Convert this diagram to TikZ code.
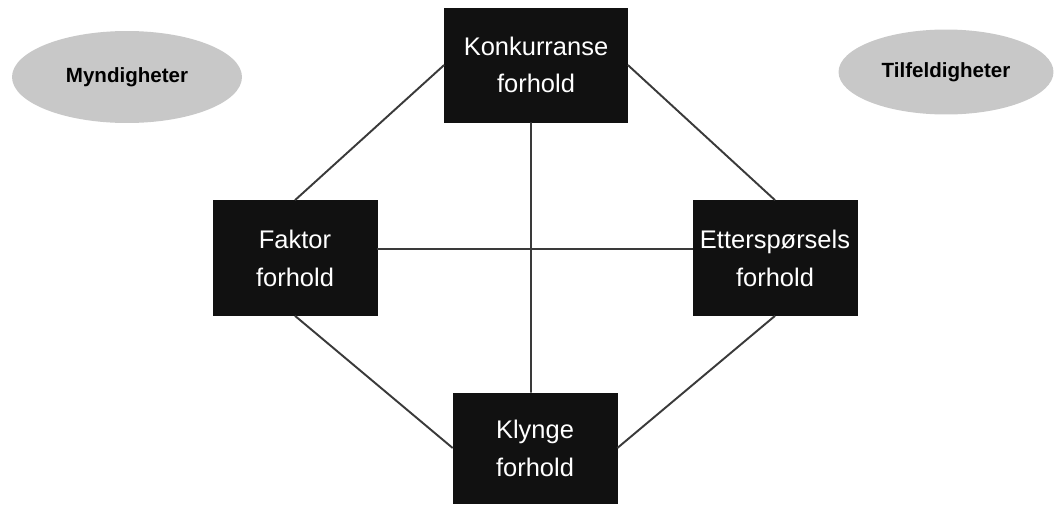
\documentclass[tikz,border=0pt]{standalone}
\usepackage{fontspec}
\setmainfont{Liberation Sans}
\usepackage{xcolor}
\usepackage{tikz}
\usetikzlibrary{shapes.geometric}

\definecolor{boxfill}{HTML}{111111}
\definecolor{ovalfill}{HTML}{C8C8C8}
\definecolor{linecol}{HTML}{3A3A3A}

\begin{document}
\begin{tikzpicture}[
    x=0.02cm, y=-0.02cm,
    box/.style={draw=boxfill, fill=boxfill, text=white, align=center, inner sep=2pt,
                minimum width=3.28cm, minimum height=2.3cm,
                font=\fontsize{14.5}{21.5}\selectfont},
    oval/.style={ellipse, fill=ovalfill, inner sep=0pt,
                 font=\fontsize{11.7}{14}\selectfont\bfseries},
    link/.style={draw=linecol, line width=1.1pt},
]
\useasboundingbox (0,0) rectangle (1060,504);

% ---------- Outer influences ----------
\node[oval, minimum width=4.6cm, minimum height=1.84cm] (myndig) at (127,77) {Myndigheter};
\node[oval, minimum width=4.3cm, minimum height=1.7cm] (tilfeld) at (946,72) {Tilfeldigheter};

% ---------- Diamond of conditions ----------
\node[box, minimum width=3.66cm, minimum height=2.28cm] (konk) at (536,65) {Konkurranse\\forhold};
\node[box] (faktor) at (295,258) {Faktor\\forhold};
\node[box] (etter) at (775,258) {Etterspørsels\\forhold};
\node[box, minimum height=2.2cm] (klynge) at (535,448) {Klynge\\forhold};

% ---------- Connections ----------
\draw[link] (konk.west) -- (faktor.north);
\draw[link] (konk.east) -- (etter.north);
\draw[link] (faktor.south) -- (klynge.west);
\draw[link] (etter.south) -- (klynge.east);
% cross in the middle, a little off the box centres
\draw[link] ([xshift=-0.1cm]konk.south) -- ([xshift=-0.08cm]klynge.north);
\draw[link] ([yshift=0.18cm]faktor.east) -- ([yshift=0.18cm]etter.west);

\end{tikzpicture}
\end{document}
